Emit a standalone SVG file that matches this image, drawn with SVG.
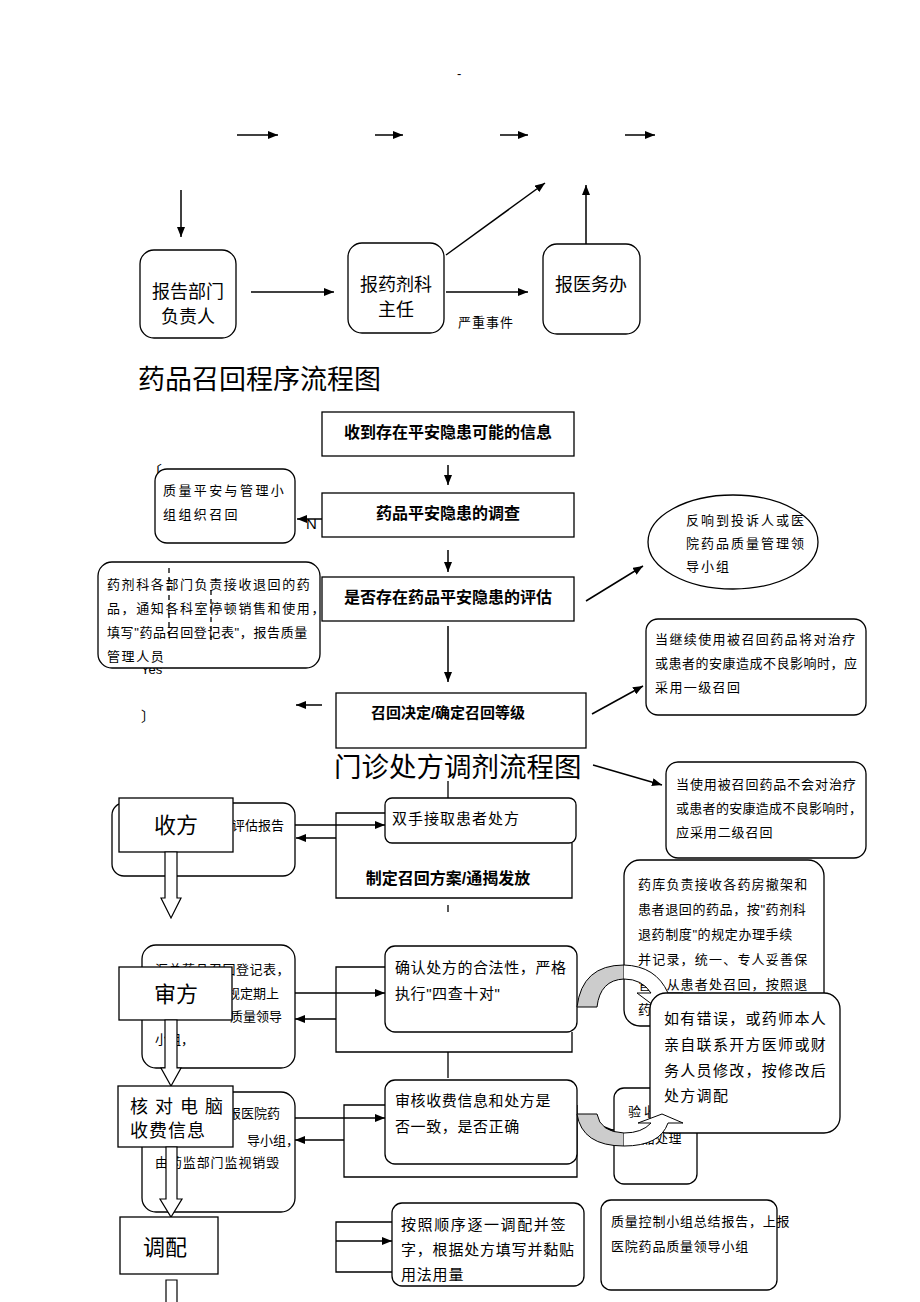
<svg xmlns="http://www.w3.org/2000/svg" width="920" height="1302" viewBox="0 0 920 1302">
<style>
text{font-family:"Liberation Sans","Noto Sans CJK SC",sans-serif;fill:#000}
.b{font-weight:bold}
.rb{fill:#fff;stroke:#000;stroke-width:1.3}
.ln{fill:none;stroke:#000;stroke-width:1.3}
.ar{fill:none;stroke:#000;stroke-width:1.5;marker-end:url(#ah)}
.s13{font-size:13px}
.s15{font-size:15px}
.s16{font-size:16px}
.s18{font-size:18px}
.s22{font-size:22px}
.title{font-size:27px}
.hol{fill:#fff;stroke:#000;stroke-width:1.2}
</style>
<defs>
<marker id="ah" viewBox="0 0 10 8" refX="10" refY="4" markerWidth="10" markerHeight="8" markerUnits="userSpaceOnUse" orient="auto"><path d="M0,0 L10,4 L0,8 z" fill="#000"/></marker>
</defs>
<rect width="920" height="1302" fill="#fff"/>
<text x="457" y="78" class="s13">-</text>

<g id="connectors">
<line class="ar" x1="237" y1="135" x2="278" y2="135"/>
<line class="ar" x1="375" y1="135" x2="403" y2="135"/>
<line class="ar" x1="500" y1="135" x2="528" y2="135"/>
<line class="ar" x1="625" y1="135" x2="655" y2="135"/>
<line class="ar" x1="181" y1="190" x2="181" y2="237"/>
<line class="ar" x1="251" y1="292" x2="334" y2="292"/>
<line class="ar" x1="446" y1="255" x2="545" y2="183"/>
<line class="ar" x1="446" y1="292" x2="528" y2="292"/>
<line class="ar" x1="586" y1="244" x2="586" y2="185"/>
<line class="ar" x1="448" y1="465" x2="448" y2="485"/>
<line class="ar" x1="448" y1="550" x2="448" y2="572"/>
<line class="ar" x1="448" y1="626" x2="448" y2="682"/>
<line class="ar" x1="322" y1="519" x2="297" y2="519"/>
<line class="ar" x1="322" y1="705" x2="296" y2="705"/>
<line class="ar" x1="586" y1="601" x2="643" y2="566"/>
<line class="ar" x1="592" y1="714" x2="643" y2="686"/>
<line class="ar" x1="593" y1="765" x2="662" y2="785"/>
</g>

<g id="n-report-dept"><rect class="rb" x="140" y="250" width="96" height="88" rx="14"/><text x="188" y="298" class="s18" text-anchor="middle">报告部门</text><text x="188" y="323" class="s18" text-anchor="middle">负责人</text></g>
<g id="n-report-pharm"><rect class="rb" x="348" y="243" width="96" height="90" rx="14"/><text x="396" y="291" class="s18" text-anchor="middle">报药剂科</text><text x="396" y="316" class="s18" text-anchor="middle">主任</text></g>
<text x="458" y="327" font-size="13" letter-spacing="1" fill="#333">严重事件</text>
<g id="n-report-med"><rect class="rb" x="543" y="244" width="97" height="90" rx="14"/><text x="591" y="291" class="s18" text-anchor="middle">报医务办</text></g>

<text x="138" y="389" class="title">药品召回程序流程图</text>

<g id="n-info"><rect class="rb" x="322" y="412" width="252" height="44"/><text x="448" y="438" class="s16 b" text-anchor="middle">收到存在平安隐患可能的信息</text></g>
<g id="n-investigate"><rect class="rb" x="322" y="493" width="252" height="44"/><text x="448" y="519" class="s16 b" text-anchor="middle">药品平安隐患的调查</text></g>
<g id="n-assess"><rect class="rb" x="322" y="577" width="252" height="44"/><text x="448" y="603" class="s16 b" text-anchor="middle">是否存在药品平安隐患的评估</text></g>
<g id="n-decide"><rect class="rb" x="336" y="693" width="250" height="55"/><text x="448" y="718" class="s15 b" text-anchor="middle">召回决定/确定召回等级</text></g>

<text x="146" y="477" font-size="16">〔</text>
<text x="306" y="529" font-size="15">N</text>
<g id="n-quality-group"><rect class="rb" x="155" y="469" width="140" height="74" rx="12"/><text x="163" y="495" class="s13" letter-spacing="2.4">质量平安与管理小</text><text x="163" y="519" class="s13" letter-spacing="2.4">组组织召回</text></g>

<text x="141" y="674" class="s13">Yes</text>
<g id="n-pharm-depts"><rect class="rb" x="98" y="562" width="222" height="106" rx="14"/>
<line x1="169" y1="568" x2="169" y2="640" stroke="#000" stroke-width="1.3" stroke-dasharray="5,4"/>
<line x1="211" y1="590" x2="211" y2="640" stroke="#000" stroke-width="1.3" stroke-dasharray="5,4"/>
<text x="107" y="589" class="s13" letter-spacing="1.6">药剂科各部门负责接收退回的药</text><text x="107" y="613" class="s13" letter-spacing="1.6">品，通知各科室停顿销售和使用，</text><text x="107" y="637" class="s13" letter-spacing="0.6">填写"药品召回登记表"，报告质量</text><text x="107" y="661" class="s13" letter-spacing="1.6">管理人员</text></g>
<text x="141" y="721" font-size="14">〕</text>

<g id="n-feedback"><ellipse cx="733" cy="542" rx="85" ry="47" fill="#fff" stroke="#000" stroke-width="1.3"/><text x="686" y="525" class="s13" letter-spacing="2">反响到投诉人或医</text><text x="686" y="548" class="s13" letter-spacing="2">院药品质量管理领</text><text x="686" y="571" class="s13" letter-spacing="2">导小组</text></g>
<g id="n-level1"><rect class="rb" x="646" y="619" width="220" height="96" rx="12"/><text x="655" y="644" class="s13" letter-spacing="1.4">当继续使用被召回药品将对治疗</text><text x="655" y="668" class="s13" letter-spacing="0.5">或患者的安康造成不良影响时，应</text><text x="655" y="692" class="s13" letter-spacing="1.4">采用一级召回</text></g>
<g id="n-level2"><rect class="rb" x="666" y="762" width="200" height="96" rx="12"/><text x="676" y="789" class="s13" letter-spacing="0.9">当使用被召回药品不会对治疗</text><text x="676" y="813" class="s13" letter-spacing="0.3">或患者的安康造成不良影响时，</text><text x="676" y="837" class="s13" letter-spacing="0.9">应采用二级召回</text></g>

<text x="334" y="777" font-size="27.5" fill="#000" stroke="#fff" stroke-width="0">门诊处方调剂流程图</text>

<g id="connectors-lower">
<line class="ln" x1="448" y1="781" x2="448" y2="798"/>
<polyline class="ln" points="385,813 336,813 336,898 572,898 572,843"/>
<line class="ln" x1="448" y1="905" x2="448" y2="912"/>
<line class="ar" x1="233" y1="825" x2="385" y2="825"/>
<line class="ar" x1="336" y1="838" x2="296" y2="838"/>
<polyline class="ln" points="385,967 336,967 336,1052 572,1052 572,1032"/>
<line class="ln" x1="448" y1="1052" x2="448" y2="1078"/>
<line class="ar" x1="232" y1="993" x2="385" y2="993"/>
<line class="ar" x1="336" y1="1019" x2="295" y2="1019"/>
<polyline class="ln" points="385,1105 344,1105 344,1177 577,1177 577,1105"/>
<line class="ar" x1="233" y1="1118" x2="385" y2="1118"/>
<line class="ar" x1="344" y1="1140" x2="295" y2="1140"/>
<polyline class="ln" points="392,1222 336,1222 336,1272 392,1272"/>
<line class="ar" x1="336" y1="1241" x2="392" y2="1241"/>
<line class="ar" x1="594" y1="1130" x2="614" y2="1130"/>
</g>

<text x="448" y="884" class="s16 b" text-anchor="middle">制定召回方案/通揭发放</text>

<g id="n-eval-report"><rect class="rb" x="112" y="803" width="183" height="73" rx="12"/><text x="232" y="830" class="s13" fill="#333">评估报告</text></g>
<g id="n-receive"><rect class="rb" x="119" y="798" width="114" height="54"/><text x="176" y="833" class="s22" text-anchor="middle">收方</text></g>
<path class="hol" d="M165,852 L177,852 L177,898 L181,898 L171,918 L161,898 L165,898 Z"/>
<g id="n-take"><rect class="rb" x="385" y="798" width="191" height="45" rx="7"/><text x="392" y="824" class="s15" letter-spacing="1">双手接取患者处方</text></g>

<g id="n-summary"><rect class="rb" x="142" y="945" width="153" height="123" rx="14"/><text x="155" y="974" class="s13" letter-spacing="0.5" fill="#333">汇总药品召回登记表，</text><text x="227" y="998" class="s13" fill="#333">规定期上</text><text x="230" y="1021" class="s13" fill="#333">质量领导</text><text x="155" y="1044" class="s13" fill="#333">小组，</text></g>
<g id="n-review"><rect class="rb" x="119" y="967" width="113" height="53"/><text x="176" y="1002" class="s22" text-anchor="middle">审方</text></g>
<path class="hol" d="M165,1020 L177,1020 L177,1068 L181,1068 L171,1086 L161,1068 L165,1068 Z"/>
<g id="n-confirm"><rect class="rb" x="385" y="946" width="192" height="86" rx="10"/><text x="395" y="973" class="s15" letter-spacing="0.6">确认处方的合法性，严格</text><text x="395" y="999" class="s15" letter-spacing="0.6">执行"四查十对"</text></g>

<g id="n-destroy"><rect class="rb" x="142" y="1092" width="153" height="120" rx="14"/><text x="228" y="1118" class="s13" fill="#333">报医院药</text><text x="247" y="1145" class="s13" fill="#333">导小组，</text><text x="155" y="1167" class="s13" letter-spacing="0.9" fill="#333">由药监部门监视销毁</text></g>
<g id="n-check"><rect class="rb" x="118" y="1086" width="115" height="61"/><text x="130" y="1113" class="s18" letter-spacing="7">核对电脑</text><text x="130" y="1137" class="s18" letter-spacing="1">收费信息</text></g>
<path class="hol" d="M166,1147 L177,1147 L177,1199 L182,1199 L171,1217 L160,1199 L166,1199 Z"/>
<g id="n-verify"><rect class="rb" x="385" y="1080" width="192" height="84" rx="10"/><text x="395" y="1106" class="s15" letter-spacing="0.6">审核收费信息和处方是</text><text x="395" y="1132" class="s15" letter-spacing="0.6">否一致，是否正确</text></g>

<g id="n-store"><rect class="rb" x="624" y="860" width="200" height="166" rx="16"/><text x="638" y="889" class="s13" letter-spacing="1.2">药库负责接收各药房撤架和</text><text x="638" y="914" class="s13" letter-spacing="0.6">患者退回的药品，按"药剂科</text><text x="638" y="939" class="s13" letter-spacing="0.6">退药制度"的规定办理手续</text><text x="638" y="964" class="s13" letter-spacing="1.2">并记录，统一、专人妥善保</text><text x="638" y="989" class="s13" letter-spacing="1.2">管，从患者处召回，按照退</text><text x="638" y="1014" class="s13" letter-spacing="1.2">药</text></g>

<g id="n-sample"><rect class="rb" x="614" y="1088" width="83" height="96" rx="10"/><text x="628" y="1116" class="s13" letter-spacing="3">验收</text><text x="628" y="1143" class="s13" letter-spacing="0.5">样品处理</text></g>

<g id="curved-arrow-1">
<path d="M577,1007 Q582,965 624,965 L624,979 Q600,980 597,1007 Z" fill="#ccc" stroke="#000" stroke-width="1"/>
<path d="M624,965 Q656,966 668,993 L683,993 L657,1008 L637,993 L651,993 Q642,979 624,979" fill="#fff" stroke="#000" stroke-width="1"/>
</g>

<g id="n-error"><rect class="rb" x="650" y="993" width="190" height="140" rx="16"/><text x="664" y="1024" class="s15" letter-spacing="1.3">如有错误，或药师本人</text><text x="664" y="1050" class="s15" letter-spacing="1.3">亲自联系开方医师或财</text><text x="664" y="1076" class="s15" letter-spacing="1.3">务人员修改，按修改后</text><text x="664" y="1101" class="s15" letter-spacing="1.3">处方调配</text></g>

<g id="curved-arrow-2">
<path d="M577,1114 Q582,1146 624,1146 L624,1133 Q600,1132 597,1114 Z" fill="#ccc" stroke="#000" stroke-width="1"/>
<path d="M624,1146 Q660,1146 668,1123 L683,1123 L662,1114 L638,1123 L651,1123 Q642,1133 624,1133" fill="#fff" stroke="#000" stroke-width="1"/>
</g>

<g id="n-dispense"><rect class="rb" x="120" y="1217" width="98" height="57"/><text x="165" y="1255" class="s22" text-anchor="middle">调配</text></g>
<path class="hol" d="M166,1302 L166,1280 L177,1280 L177,1302"/>
<g id="n-sign"><rect class="rb" x="392" y="1203" width="192" height="83" rx="10"/><text x="401" y="1230" class="s15" letter-spacing="1.6">按照顺序逐一调配并签</text><text x="401" y="1255" class="s15" letter-spacing="0.8">字，根据处方填写并黏贴</text><text x="401" y="1280" class="s15" letter-spacing="0.8">用法用量</text></g>
<g id="n-qc-report"><rect class="rb" x="601" y="1200" width="176" height="90" rx="10"/><text x="611" y="1226" class="s13" letter-spacing="0.8">质量控制小组总结报告，上报</text><text x="611" y="1251" class="s13" letter-spacing="0.8">医院药品质量领导小组</text></g>
</svg>
